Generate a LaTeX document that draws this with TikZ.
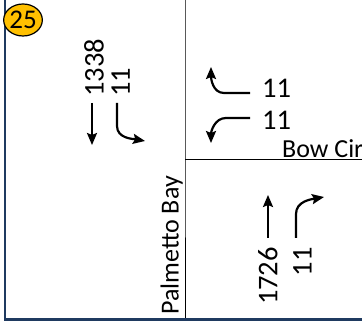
\documentclass[tikz,border=0pt]{standalone}
\usepackage{fontspec}
\setmainfont{Carlito}
\usetikzlibrary{arrows.meta,shapes.geometric}
\definecolor{framenavy}{HTML}{1F3A60}
\definecolor{idyellow}{HTML}{FFC000}
\begin{document}
\begin{tikzpicture}[x=1pt, y=-1pt,
  volnum/.style={font=\fontsize{28.5}{28.5}\selectfont, inner sep=0pt},
  streetlbl/.style={font=\fontsize{26}{26}\selectfont, inner sep=0pt},
  mvarrow/.style={line width=2.2pt, -{Stealth[length=12pt,width=10pt,inset=2pt]}},
  roadline/.style={line width=0.8pt, black}
]
\useasboundingbox (0,0) rectangle (362,323);

% Frame
\draw[framenavy, line width=2.6pt] (5,0) -- (5,319.5) -- (362,319.5);

% Road edges
\coordinate (corner) at (185,159);
\draw[roadline] (185,0) -- (corner) -- (185,318);
\draw[roadline] (corner) -- (362,159);

% Intersection ID
\node[draw=black, line width=1.2pt, fill=idyellow, ellipse, minimum width=32pt, minimum height=32pt, inner sep=0pt,
  font=\fontsize{27}{27}\selectfont] (id) at (23,20) {25};

% Southbound
\node[volnum, rotate=90, anchor=south west] (sbT) at (104,97) {1338};
\node[volnum, rotate=90, anchor=south west] (sbL) at (130,97) {11};
\draw[mvarrow] (92,103) -- (92,145);
\draw[mvarrow] (117,103) -- (117,126) to[out=-90, in=170] (145,141);

% Westbound
\node[volnum, anchor=west] (wbL) at (262,88) {11};
\node[volnum, anchor=west] (wbR) at (262,120) {11};
\draw[mvarrow] (250,93) -- (224,93) to[out=180, in=-90] (211,67);
\draw[mvarrow] (250,118) -- (226,118) to[out=180, in=90] (211,143);

% Northbound
\node[volnum, rotate=90, anchor=north east] (nbT) at (258,247) {1726};
\node[volnum, rotate=90, anchor=north east] (nbR) at (293,247) {11};
\draw[mvarrow] (268,238) -- (268,195);
\draw[mvarrow] (296,238) -- (296,214) to[out=90, in=190] (324,197);

% Street names
\node[streetlbl, anchor=south west] (bow) at (282,157.5) {Bow Cir};
\node[streetlbl, rotate=90, anchor=south west] (palm) at (183,315) {Palmetto Bay};
\end{tikzpicture}
\end{document}
